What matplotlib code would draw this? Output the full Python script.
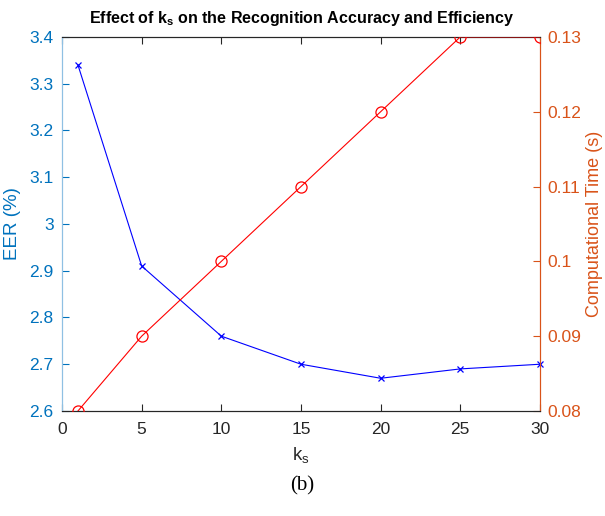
import numpy as np
import matplotlib.pyplot as plt

plt.rcParams['font.family'] = ['Liberation Sans', 'DejaVu Sans']
plt.rcParams['mathtext.fontset'] = 'custom'
plt.rcParams['mathtext.rm'] = 'Liberation Sans'
plt.rcParams['mathtext.it'] = 'Liberation Sans'
plt.rcParams['mathtext.bf'] = 'Liberation Sans:bold'

# data
ks = [1, 5, 10, 15, 20, 25, 30]
eer = [3.34, 2.91, 2.76, 2.70, 2.67, 2.69, 2.70]
comp_time = [0.08, 0.09, 0.10, 0.11, 0.12, 0.13, 0.13]

blue_ax = '#0072BD'
orange_ax = '#D95319'
dark = '#262626'

fig = plt.figure(figsize=(6.05, 5.16), dpi=100)
ax = fig.add_axes([0.1025, 0.2035, 0.79, 0.725])
ax2 = ax.twinx()

ax.plot(ks, eer, color='b', lw=0.8, marker='x', ms=5, mew=0.9, clip_on=False, zorder=3)
ax2.plot(ks, comp_time, color='r', lw=0.8, marker='o', ms=8, mfc='none', mew=0.9, zorder=3)

ax.set_xlim(0, 30)
ax.set_ylim(2.6, 3.4)
ax2.set_ylim(0.08, 0.13)
ax.set_xticks(np.arange(0, 31, 5))
ax.set_yticks(np.arange(2.6, 3.41, 0.1))
ax.set_yticklabels(['2.6', '2.7', '2.8', '2.9', '3', '3.1', '3.2', '3.3', '3.4'])
ax2.set_yticks(np.arange(0.08, 0.131, 0.01))
ax2.set_yticklabels(['0.08', '0.09', '0.1', '0.11', '0.12', '0.13'])

for a in (ax, ax2):
    a.spines['top'].set_color(dark)
    a.spines['bottom'].set_color(dark)
    a.spines['left'].set_color('#8fc0e3')
    a.spines['right'].set_color(orange_ax)
    for s in a.spines.values():
        s.set_linewidth(0.8)

ax.tick_params(axis='x', direction='in', length=5, width=0.8, colors=dark,
               labelsize=12.5, top=True, pad=8)
ax.tick_params(axis='y', direction='in', length=5, width=0.8, colors=blue_ax,
               labelsize=12.5, pad=6)
ax2.tick_params(axis='y', direction='in', length=5, width=0.8, colors=orange_ax,
                labelsize=12.5, pad=5)

ax.set_xlabel(r'$\mathrm{k_s}$', fontsize=13.5, color=dark, labelpad=6)
ax.set_ylabel('EER (%)', fontsize=13.5, color=blue_ax, labelpad=6)
ax2.set_ylabel('Computational Time (s)', fontsize=13, color=orange_ax, labelpad=4)

ax.set_title(r'Effect of $\mathbf{k_s}$ on the Recognition Accuracy and Efficiency',
             fontsize=11.5, fontweight='bold', pad=10)

fig.text(0.5, 0.058, '(b)', ha='center', va='center', fontsize=15,
         family=['Liberation Serif', 'DejaVu Serif'])

fig.savefig('out.png', dpi=100)
